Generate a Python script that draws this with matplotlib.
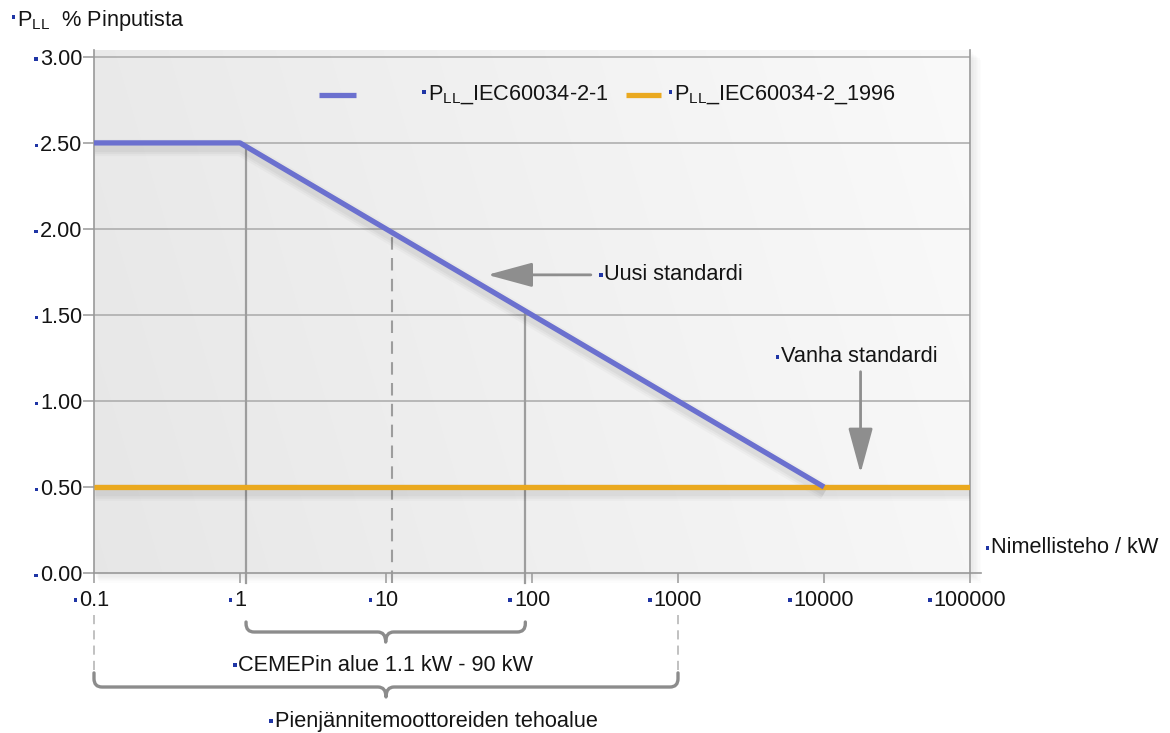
import numpy as np
import matplotlib
matplotlib.use('Agg')
import matplotlib.pyplot as plt
from matplotlib.path import Path
from matplotlib.patches import PathPatch, Rectangle, FancyBboxPatch
import matplotlib.transforms as mtransforms

plt.rcParams['font.family'] = ['Liberation Sans', 'DejaVu Sans']

# ---------------- data ----------------
new_std_kw = [0.1, 1, 10000]          # P_LL IEC60034-2-1
new_std_pct = [2.5, 2.5, 0.5]
old_std_kw = [0.1, 100000]            # P_LL IEC60034-2 1996
old_std_pct = [0.5, 0.5]
guide_kw = [1.1, 11, 90]              # vertical guide lines
guide_dashed = [False, True, False]
x_ticks = [0.1, 1, 10, 100, 1000, 10000, 100000]
x_tick_labels = ['0.1', '1', '10', '100', '1000', '10000', '100000']
y_ticks = [0.0, 0.5, 1.0, 1.5, 2.0, 2.5, 3.0]
y_tick_labels = ['0.00', '0.50', '1.00', '1.50', '2.00', '2.50', '3.00']
cemep_range_kw = [1.1, 90]
lv_range_kw = [0.1, 1000]

BLUE = '#6b70cf'
ORANGE = '#eaa91f'
GRID = '#a9a9a9'
SPINE = '#999999'
ARROW = '#8e8e8e'
TXT = '#141414'
SQ = '#1f35a5'
FS = 15.7

fig = plt.figure(figsize=(11.7, 7.33), dpi=100)
fig.patch.set_facecolor('white')
ax = fig.add_axes([94/1170, 1-573/733, 876/1170, 523/733])

# soft drop shadow behind the plot area
x0, y0, w, h = 94, 733-573, 876, 523
for i in range(1, 9):
    fig.patches.append(Rectangle((x0 + i*0.6, y0 - i*1.2), w + i*0.8, h,
                                 transform=mtransforms.IdentityTransform(),
                                 facecolor='black', alpha=0.012, edgecolor='none',
                                 zorder=-5, figure=fig))

# gradient background
gx = np.linspace(0, 1, 200)
gy = np.linspace(0, 1, 100)
GX, GY = np.meshgrid(gx, gy)
val = 0.905 + 0.075*(0.85*GX + 0.15*GY)
img = np.dstack([val, val, val])
ax.imshow(img, extent=(0, 1, 0, 1), transform=ax.transAxes, aspect='auto',
          origin='lower', zorder=0, interpolation='bilinear')
ax.set_facecolor('none')

ax.set_xscale('log')
ax.set_xlim(0.1, 100000)
ax.set_ylim(0, 3.04)

# grid
for yv in y_ticks[1:]:
    ax.axhline(yv, color=GRID, lw=1.1, zorder=1)

ax.spines['top'].set_visible(False)
for s in ['left', 'right', 'bottom']:
    ax.spines[s].set_color(SPINE)
    ax.spines[s].set_linewidth(1.2)
ax.plot([100000, 118600], [0, 0], color=SPINE, lw=1.2, clip_on=False, zorder=3)

ax.set_yticks(y_ticks)
ax.set_yticklabels(y_tick_labels)
ax.set_xticks(x_ticks)
ax.set_xticklabels(x_tick_labels)
ax.xaxis.set_minor_locator(matplotlib.ticker.NullLocator())
ax.tick_params(axis='y', direction='out', length=8, width=1.1, color=SPINE,
               labelsize=FS, labelcolor=TXT, pad=0.5)
ax.tick_params(axis='x', direction='out', length=7.5, width=1.1, color=SPINE,
               labelsize=FS, labelcolor=TXT, pad=4.5)

# guide lines from axis up to the new-standard line
guide_top = np.interp(np.log10(guide_kw), np.log10(new_std_kw), new_std_pct)
for xk, top, dashed in zip(guide_kw, guide_top, guide_dashed):
    ax.plot([xk, xk], [-0.058, top], color='#9d9d9d', lw=1.6 if not dashed else 1.5,
            ls=(0, (6, 4)) if dashed else '-', clip_on=False, zorder=2)

# soft shadows under the series lines
for k, (lw, a) in enumerate([(12, 0.025), (9, 0.03), (6, 0.035)]):
    sh = mtransforms.offset_copy(ax.transData, fig=fig, x=1, y=-5, units='dots')
    ax.plot(old_std_kw, old_std_pct, color='black', lw=lw, alpha=a, transform=sh,
            zorder=3, solid_capstyle='butt')
    ax.plot(new_std_kw, new_std_pct, color='black', lw=lw, alpha=a, transform=sh,
            zorder=3, solid_capstyle='butt')

# series
ax.plot(old_std_kw, old_std_pct, color=ORANGE, lw=3.8, zorder=4, solid_capstyle='butt')
ax.plot(new_std_kw, new_std_pct, color=BLUE, lw=3.8, zorder=5, solid_capstyle='butt')

labels = []  # (text artist, dy adjust)

# legend (manual)
ly = 0.914
ax.plot([0.257, 0.299], [ly, ly], color=BLUE, lw=3.8, transform=ax.transAxes,
        solid_capstyle='butt', zorder=6)
ax.plot([0.607, 0.647], [ly, ly], color=ORANGE, lw=3.8, transform=ax.transAxes,
        solid_capstyle='butt', zorder=6)
t = ax.text(0.381, ly, r'P$_{\mathregular{LL}}$_IEC60034-2-1', transform=ax.transAxes,
            va='center', ha='left', fontsize=FS, color=TXT)
labels.append((t, 3))
t = ax.text(0.662, ly, r'P$_{\mathregular{LL}}$_IEC60034-2_1996', transform=ax.transAxes,
            va='center', ha='left', fontsize=FS, color=TXT)
labels.append((t, 3))

# arrows & annotation texts
arrow_style = '-|>,head_length=1.4,head_width=0.38'
ax.annotate('', xy=(49.5, 1.733), xytext=(253, 1.733),
            arrowprops=dict(arrowstyle=arrow_style, color=ARROW, lw=2,
                            mutation_scale=20, shrinkA=0, shrinkB=0),
            zorder=6)
t = ax.text(313, 1.733, 'Uusi standardi', va='center', ha='left', fontsize=FS, color=TXT)
labels.append((t, 0))
ax.annotate('', xy=(17800, 0.58), xytext=(17800, 1.17),
            arrowprops=dict(arrowstyle=arrow_style, color=ARROW, lw=2,
                            mutation_scale=20, shrinkA=0, shrinkB=0),
            zorder=6)
t = ax.text(5080, 1.256, 'Vanha standardi', va='center', ha='left', fontsize=FS, color=TXT)
labels.append((t, 0))

# axis titles
t = ax.text(-0.088, 1.057, r'P$_{\mathregular{LL}}$  % Pinputista', transform=ax.transAxes,
            va='center', ha='left', fontsize=FS, color=TXT)
labels.append((t, 3))
t = ax.text(1.024, 0.048, 'Nimellisteho / kW', transform=ax.transAxes,
            va='center', ha='left', fontsize=FS, color=TXT)
labels.append((t, 0))

# braces below the axis
trb = ax.get_xaxis_transform()
BR = '#8c8c8c'


def brace(x1, x2, y_top, y_h, y_tip):
    l1, l2 = np.log10(x1), np.log10(x2)
    lm = (l1 + l2) / 2
    rh = 0.055
    rv = 0.016
    P = lambda l, y: (10**l, y)
    verts = [P(l1, y_top), P(l1, y_h + rv), P(l1, y_h), P(l1 + rh, y_h),
             P(lm - rh, y_h), P(lm, y_h), P(lm, y_tip),
             P(lm, y_h), P(lm + rh, y_h),
             P(l2 - rh, y_h), P(l2, y_h), P(l2, y_h + rv), P(l2, y_top)]
    codes = [Path.MOVETO, Path.LINETO, Path.CURVE3, Path.CURVE3,
             Path.LINETO, Path.CURVE3, Path.CURVE3,
             Path.CURVE3, Path.CURVE3,
             Path.LINETO, Path.CURVE3, Path.CURVE3, Path.LINETO]
    ax.add_patch(PathPatch(Path(verts, codes), transform=trb, fill=False,
                           edgecolor=BR, lw=2.4, clip_on=False, capstyle='round',
                           joinstyle='round'))


brace(cemep_range_kw[0], cemep_range_kw[1], -0.0937, -0.1128, -0.132)
brace(lv_range_kw[0], lv_range_kw[1], -0.191, -0.218, -0.237)
for xk in lv_range_kw:
    ax.plot([xk, xk], [-0.080, -0.191], transform=trb, color='#b0b0b0', lw=1.1,
            ls=(0, (6, 4)), clip_on=False)

cem_mid = 10**np.mean(np.log10(cemep_range_kw))
t = ax.text(cem_mid, -0.176, 'CEMEPin alue 1.1 kW - 90 kW', transform=trb,
            va='center', ha='center', fontsize=FS, color=TXT)
labels.append((t, 0))
t = ax.text(1.73, -0.283, 'Pienjännitemoottoreiden tehoalue', transform=trb,
            va='center', ha='left', fontsize=FS, color=TXT)
labels.append((t, 0))

# small blue squares before every label
fig.canvas.draw()
renderer = fig.canvas.get_renderer()
for tl in ax.get_xticklabels() + ax.get_yticklabels():
    labels.append((tl, 0))
for art, dy in labels:
    bb = art.get_window_extent(renderer)
    if bb.width <= 0:
        continue
    s = 3.8
    cx = bb.x0 - 3.5
    cy = bb.y0 + bb.height * 0.5 + dy
    fig.patches.append(Rectangle((cx - s/2, cy - s/2), s, s,
                                 transform=mtransforms.IdentityTransform(),
                                 facecolor=SQ, edgecolor='none', figure=fig))

fig.savefig('out.png', dpi=100, facecolor='white')
